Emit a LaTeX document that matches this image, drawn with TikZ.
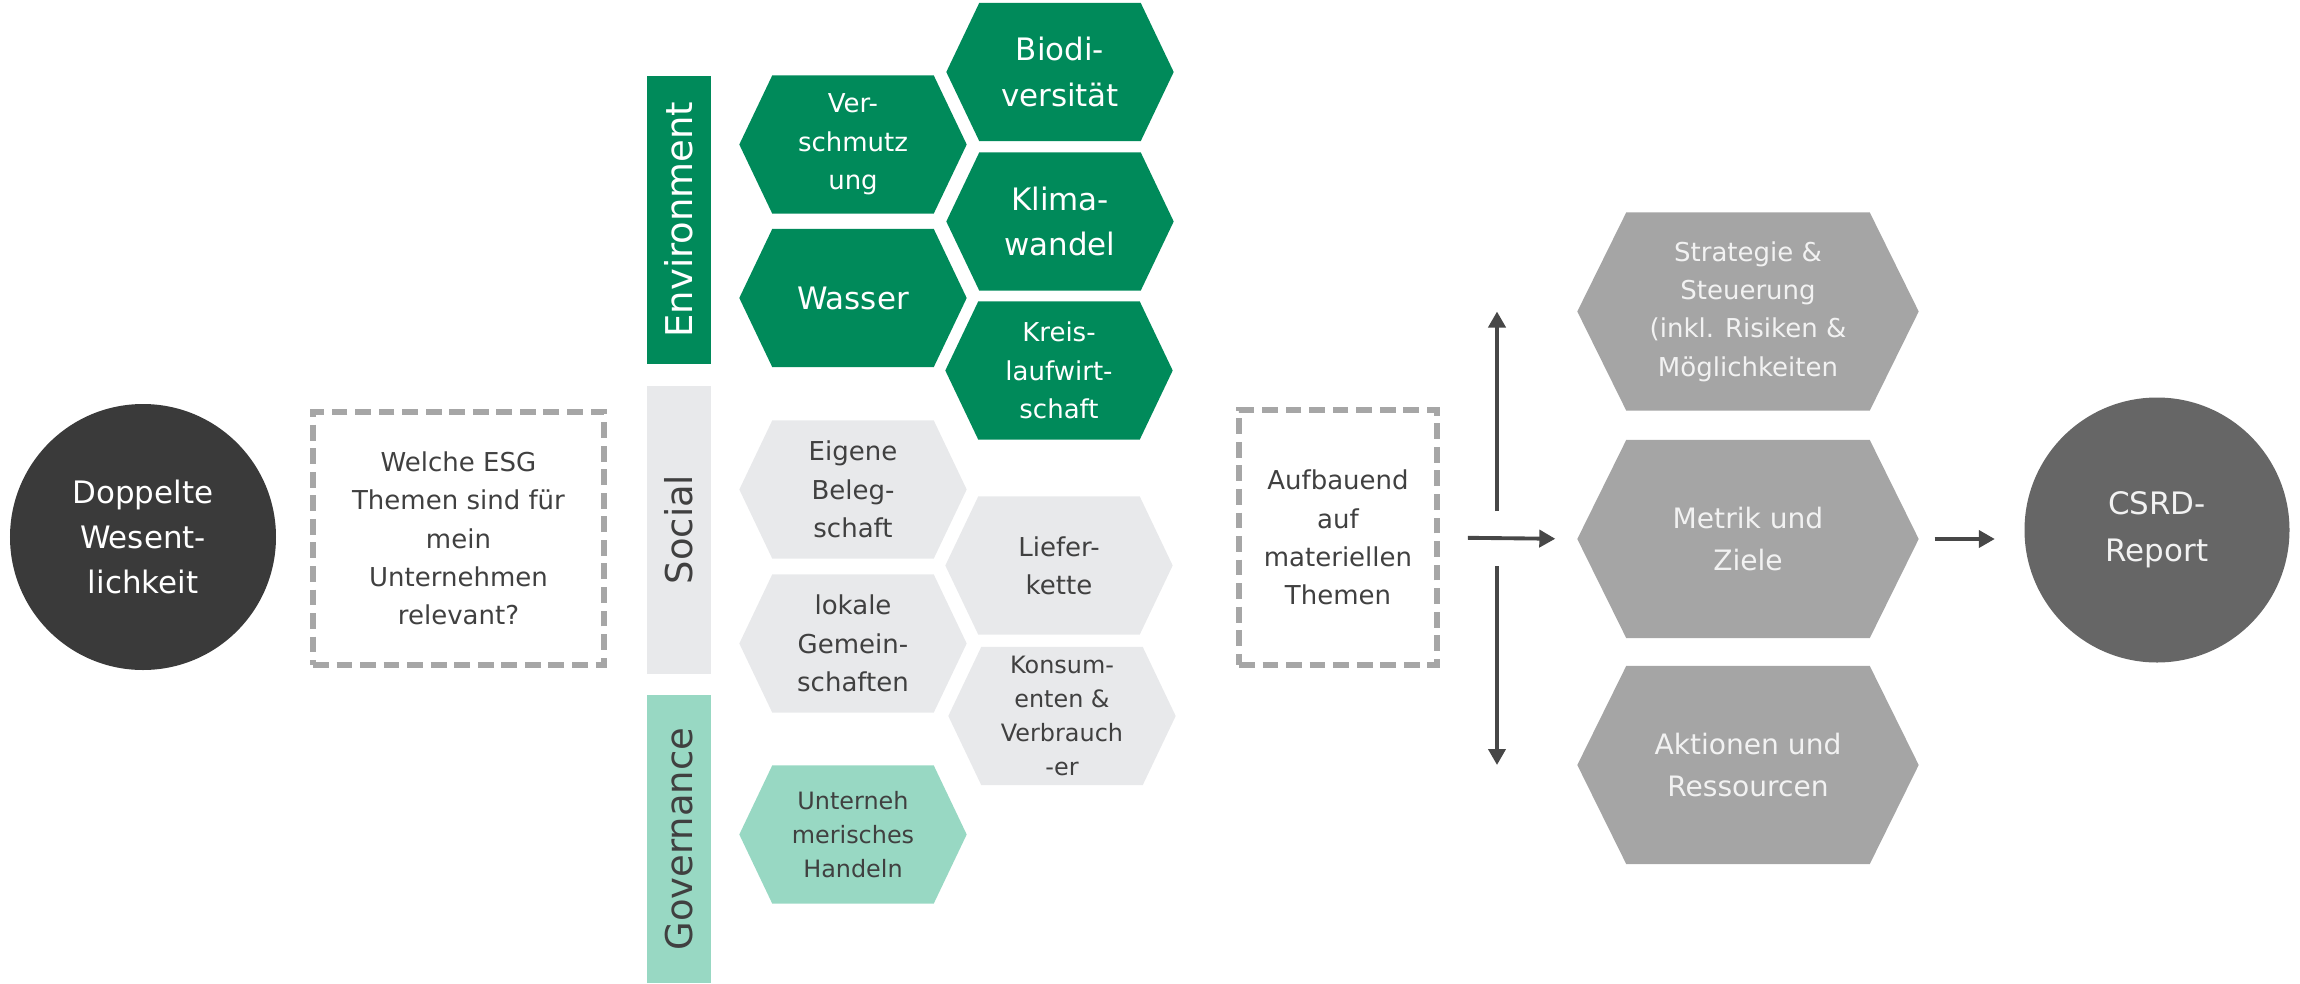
\documentclass[tikz,border=0pt]{standalone}
\usepackage{fontspec}
\setmainfont{DejaVu Sans}
\usetikzlibrary{arrows.meta,positioning,backgrounds,calc}

\definecolor{envgreen}{RGB}{0,138,90}
\definecolor{govmint}{RGB}{152,216,195}
\definecolor{socgray}{RGB}{232,233,235}
\definecolor{hexgray}{RGB}{165,165,165}
\definecolor{darkcirc}{RGB}{58,58,58}
\definecolor{csrdgray}{RGB}{102,102,102}
\definecolor{textgray}{RGB}{64,64,64}
\definecolor{dashgray}{RGB}{166,166,166}
\definecolor{arrowgray}{RGB}{71,71,71}

\newcommand{\fbig}{\fontsize{8.8}{12.9}\selectfont}
\newcommand{\fmid}{\fontsize{7.4}{10.9}\selectfont}
\newcommand{\fmet}{\fontsize{8}{12}\selectfont}
\newcommand{\fsmall}{\fontsize{6.8}{9.7}\selectfont}

% hexagon behind a node: node, colour, slant
\newcommand{\hexfill}[3]{%
  \fill[#2] (#1.west) -- ([xshift=#3]#1.north west) -- ([xshift=-#3]#1.north east)
    -- (#1.east) -- ([xshift=-#3]#1.south east) -- ([xshift=#3]#1.south west) -- cycle;}

\begin{document}
\begin{tikzpicture}[
    every node/.style={align=center, inner sep=0pt},
    hexa/.style={minimum width=2.26cm, minimum height=1.37cm},
    bighex/.style={minimum width=3.40cm, minimum height=1.97cm, text=white!95!black},
    bar/.style={rotate=90, minimum width=2.88cm, minimum height=0.64cm,
      font=\fontsize{10.5}{12}\selectfont},
    dashbox/.style={draw=dashgray, line width=1.6pt, dash pattern=on 4.5pt off 2.2pt,
      text=textgray, font=\fmid},
    arr/.style={draw=arrowgray, line width=1.1pt, -{Triangle[length=1.6mm,width=1.7mm]}}
  ]
  \useasboundingbox (0,0) rectangle (23,9.83);

  % left part
  \node[circle, fill=darkcirc, text=white, minimum size=2.66cm, font=\fbig]
    (doppelt) at (1.43,4.46) {Doppelte\\Wesent-\\lichkeit};
  \node[dashbox, minimum width=2.91cm, minimum height=2.53cm]
    (frage) at (4.585,4.445) {Welche ESG\\Themen sind für\\mein\\Unternehmen\\relevant?};

  % ESG bars
  \node[bar, fill=envgreen, text=white] (envbar) at (6.79,7.635) {Environment};
  \node[bar, fill=socgray, text=textgray] (socbar) at (6.79,4.535) {Social};
  \node[bar, fill=govmint, text=textgray] (govbar) at (6.79,1.44) {Governance};

  % environment topics
  \node[hexa, text=white, font=\fmid] (verschm) at (8.53,8.385) {Ver-\\schmutz\\ung};
  \node[hexa, text=white, font=\fbig] (biodiv) at (10.60,9.11) {Biodi-\\versität};
  \node[hexa, text=white, font=\fbig] (klima) at (10.60,7.615) {Klima-\\wandel};
  \node[hexa, text=white, font=\fbig] (wasser) at (8.53,6.85) {Wasser};
  \node[hexa, text=white, font=\fmid] (kreis) at (10.59,6.125) {Kreis-\\laufwirt-\\schaft};

  % social topics
  \node[hexa, text=textgray, font=\fmid] (eigene) at (8.53,4.935) {Eigene\\Beleg-\\schaft};
  \node[hexa, text=textgray, font=\fmid] (liefer) at (10.59,4.175) {Liefer-\\kette};
  \node[hexa, text=textgray, font=\fmid] (lokal) at (8.53,3.395) {lokale\\Gemein-\\schaften};
  \node[hexa, text=textgray, font=\fsmall] (konsum) at (10.62,2.67) {Konsum-\\enten \&\\Verbrauch\\-er};

  % governance topic
  \node[hexa, text=textgray, font=\fsmall] (handeln) at (8.53,1.485) {Unterneh\\merisches\\Handeln};

  % right part
  \node[dashbox, minimum width=1.98cm, minimum height=2.55cm]
    (aufbau) at (13.38,4.455) {Aufbauend\\auf\\materiellen\\Themen};
  \node[bighex, font=\fmid] (strat) at (17.48,6.715) {Strategie \&\\Steuerung\\(inkl. Risiken \&\\Möglichkeiten};
  \node[bighex, font=\fmet] (metrik) at (17.48,4.44) {Metrik und\\Ziele};
  \node[bighex, font=\fmet] (aktion) at (17.48,2.18) {Aktionen und\\Ressourcen};
  \node[circle, fill=csrdgray, text=white!95!black, minimum size=2.65cm,
    font=\fontsize{8.8}{13.4}\selectfont] (csrd) at (21.57,4.53) {CSRD-\\Report};

  \begin{scope}[on background layer]
    \foreach \n/\c in {verschm/envgreen, biodiv/envgreen, klima/envgreen, wasser/envgreen,
        kreis/envgreen, eigene/socgray, liefer/socgray, lokal/socgray, konsum/socgray,
        handeln/govmint}
      {\hexfill{\n}{\c}{3.3mm}}
    \foreach \n in {strat, metrik, aktion}
      {\hexfill{\n}{hexgray}{4.9mm}}
  \end{scope}

  % arrows
  \coordinate (fork) at (14.97,4.45);
  \draw[arr, shorten <=2.8mm, shorten >=2.2mm] (aufbau.east) -- (metrik.west);
  \draw[arr] ([yshift=2.7mm]fork) -- (fork |- strat.west);
  \draw[arr] ([yshift=-2.8mm]fork) -- (fork |- aktion.west);
  \draw[arr, shorten <=1.6mm, shorten >=2.9mm] (metrik.east) -- (metrik.east -| csrd.west);
\end{tikzpicture}
\end{document}
